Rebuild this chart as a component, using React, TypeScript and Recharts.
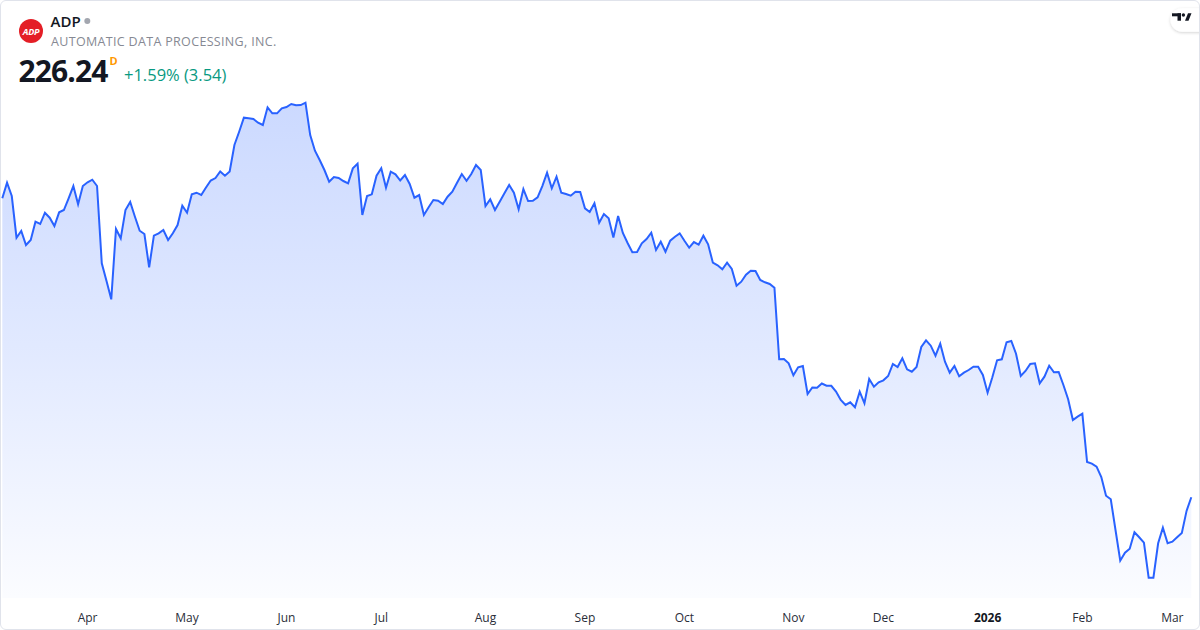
import React from "react";
import { AreaChart, Area, XAxis, YAxis } from "recharts";

// Daily closes (trading days, Mar 2025 -> Mar 2026)
const prices: number[] = [
  303.98, 308.04, 304.58, 293.74, 295.48, 291.84, 293.14, 297.9, 297.3, 300.24,
  298.94, 296.78, 300.34, 300.94, 303.98, 307.18, 302.42, 307.18, 308.14, 308.82,
  307.18, 287.08, 282.48, 277.72, 296.0, 293.58, 300.94, 303.02, 299.2, 295.56,
  294.7, 286.04, 294.26, 294.88, 295.74, 293.14, 294.88, 297.04, 302.06, 300.24,
  305.02, 305.44, 304.84, 306.79, 308.61, 309.26, 310.95, 309.86, 310.95, 317.84,
  321.3, 324.94, 324.78, 324.6, 323.64, 323.04, 327.64, 326.08, 326.08, 327.38,
  327.72, 328.5, 328.16, 328.24, 328.84, 320.44, 316.36, 313.94, 311.34, 308.3,
  309.52, 309.26, 308.48, 307.88, 311.78, 312.98, 299.64, 304.58, 305.02, 309.86,
  311.78, 306.74, 310.9, 310.22, 308.61, 310.04, 307.7, 304.14, 304.84, 299.64,
  301.64, 303.54, 303.36, 302.5, 304.4, 305.7, 308.04, 310.3, 308.56, 310.3,
  312.64, 311.34, 301.98, 303.72, 300.94, 303.1, 305.28, 307.44, 305.44, 301.12,
  306.4, 303.28, 303.36, 304.24, 307.18, 310.64, 306.58, 309.6, 305.44, 305.1,
  304.66, 305.7, 305.62, 301.38, 300.42, 302.68, 297.64, 299.9, 298.78, 293.79,
  299.38, 294.96, 292.36, 289.94, 290.02, 292.28, 293.4, 295.04, 290.54, 292.7,
  290.1, 292.96, 294.0, 294.88, 292.96, 291.14, 292.62, 291.92, 294.26, 292.02,
  287.24, 286.56, 285.52, 287.24, 285.6, 281.26, 282.3, 284.12, 285.16, 285.08,
  282.74, 282.14, 281.7, 280.74, 262.12, 262.2, 261.08, 257.96, 260.04, 260.38,
  253.1, 254.79, 254.74, 255.83, 255.26, 255.23, 253.75, 251.54, 250.24, 250.94,
  249.64, 253.7, 250.68, 257.0, 255.0, 256.14, 256.66, 257.78, 260.9, 260.12,
  262.38, 259.52, 258.9, 260.12, 265.32, 267.06, 265.66, 263.06, 266.18, 261.5,
  258.64, 260.38, 257.7, 258.64, 259.34, 260.2, 260.2, 258.04, 253.44, 257.44,
  261.86, 262.12, 266.54, 266.88, 263.58, 257.78, 259.08, 260.9, 261.08, 255.88,
  257.6, 260.46, 258.74, 258.82, 255.44, 251.72, 246.34, 247.2, 247.98, 235.42,
  234.98, 234.2, 231.52, 226.66, 225.72, 217.74, 209.76, 211.84, 212.88, 217.14,
  215.84, 214.44, 205.34, 205.34, 214.28, 218.34, 214.28, 214.7, 215.84, 216.96,
  222.7, 226.24,
];

const tickIndex: number[] = [18, 39, 60, 80, 102, 123, 144, 167, 186, 208, 228, 247];
const tickLabels: string[] = ["Apr", "May", "Jun", "Jul", "Aug", "Sep", "Oct", "Nov", "Dec", "2026", "Feb", "Mar"];
const boldLabels: string[] = ["2026"];

const yDomain: number[] = [200, 340];

const symbol = "ADP";
const companyName = "AUTOMATIC DATA PROCESSING, INC.";
const lastPrice = "226.24";
const priceFlag = "D";
const changeText = "+1.59% (3.54)";

const data = prices.map((v, i) => ({ i, v }));

const FONT = "'Open Sans', 'Noto Sans', Arial, sans-serif";

const MonthTick = (props: any) => {
  const { x, y, payload } = props;
  const k = tickIndex.indexOf(payload.value);
  const label = k >= 0 ? tickLabels[k] : "";
  const bold = boldLabels.includes(label);
  return (
    <text
      x={x}
      y={y}
      dy={15.5}
      textAnchor="middle"
      fontSize={12}
      fontFamily={FONT}
      fontWeight={bold ? 700 : 400}
      fill={bold ? "#131722" : "#2a2e39"}
    >
      {label}
    </text>
  );
};

export default function App() {
  return (
    <div
      style={{
        position: "absolute",
        left: 0,
        top: 0,
        width: 1200,
        height: 630,
        background: "#ffffff",
        fontFamily: FONT,
        overflow: "hidden",
      }}
    >
      <div style={{ position: "absolute", left: 0, top: 0 }}>
        <AreaChart
          width={1200}
          height={630}
          data={data}
          margin={{ top: 59.8, right: 8.7, bottom: 11.8, left: 2.3 }}
        >
          <defs>
            <linearGradient id="adpFill" x1="0" y1="0" x2="0" y2="1">
              <stop offset="0%" stopColor="#2962ff" stopOpacity={0.4} />
              <stop offset="50%" stopColor="#2962ff" stopOpacity={0.23} />
              <stop offset="100%" stopColor="#2962ff" stopOpacity={0.03} />
            </linearGradient>
          </defs>
          <XAxis
            dataKey="i"
            type="number"
            domain={[0, prices.length - 1]}
            ticks={tickIndex}
            interval={0}
            axisLine={false}
            tickLine={false}
            height={20}
            tick={<MonthTick />}
          />
          <YAxis hide domain={yDomain} allowDataOverflow />
          <Area
            type="linear"
            dataKey="v"
            stroke="#2962ff"
            strokeWidth={2}
            fill="url(#adpFill)"
            isAnimationActive={false}
            dot={false}
            activeDot={false}
          />
        </AreaChart>
      </div>

      {/* Header */}
      <svg
        width={300}
        height={100}
        style={{ position: "absolute", left: 0, top: 0 }}
      >
        <circle cx={31} cy={31} r={12} fill="#e41e26" />
        <text
          x={31}
          y={34.5}
          textAnchor="middle"
          fontSize={9}
          fontStyle="italic"
          fontWeight={700}
          fill="#ffffff"
          fontFamily={FONT}
          letterSpacing={-0.3}
        >
          {symbol}
        </text>
        <text x={50.5} y={26.5} fontSize={15} fontWeight={600} fill="#131722" fontFamily={FONT}>
          {symbol}
        </text>
        <circle cx={87.3} cy={21} r={3} fill="#a3a6af" />
        <text x={51} y={45.7} fontSize={12.5} fill="#868993" fontFamily={FONT} letterSpacing={0.33}>
          {companyName}
        </text>
        <text x={18.5} y={81.7} fontSize={30} fontWeight={700} fill="#131722" fontFamily={FONT} letterSpacing={-0.9}>
          {lastPrice}
        </text>
        <text x={109.5} y={65} fontSize={11} fontWeight={700} fill="#ff9800" fontFamily={FONT}>
          {priceFlag}
        </text>
        <text x={124} y={80.5} fontSize={16.5} fill="#089981" fontFamily={FONT}>
          {changeText}
        </text>
      </svg>

      {/* TradingView badge */}
      <svg width={60} height={44} style={{ position: "absolute", left: 1150, top: 0 }}>
        <defs>
          <filter id="tvShadow" x="-30%" y="-50%" width="160%" height="200%">
            <feDropShadow dx={0} dy={1} stdDeviation={1.5} floodColor="#000" floodOpacity={0.18} />
          </filter>
        </defs>
        <rect x={20.5} y={8.3} width={44} height={23.4} rx={11.7} fill="#ffffff" filter="url(#tvShadow)" />
        <rect x={22} y={13.3} width={9} height={3} fill="#131722" />
        <rect x={27.5} y={13.3} width={3.5} height={7.4} fill="#131722" />
        <circle cx={33.4} cy={15} r={1.7} fill="#131722" />
        <polygon points="35,20.7 38.5,20.7 41.5,13.3 38,13.3" fill="#131722" />
      </svg>

      {/* Card border */}
      <div
        style={{
          position: "absolute",
          left: 0,
          top: 0,
          width: 1198,
          height: 628,
          border: "1px solid #e0e3eb",
          borderRadius: 6,
          pointerEvents: "none",
        }}
      />
    </div>
  );
}
